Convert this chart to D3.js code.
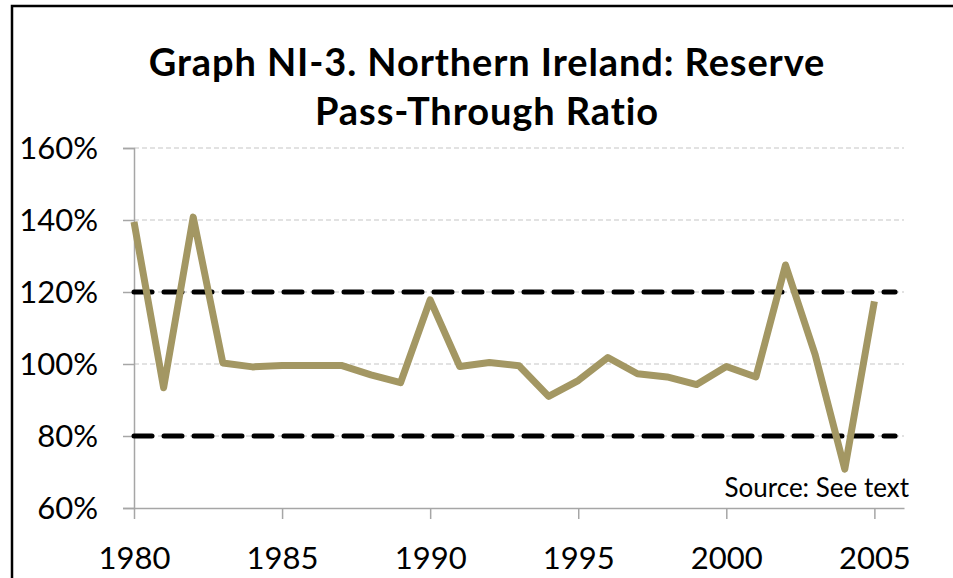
<!DOCTYPE html>
<html>
<head>
<meta charset="utf-8">
<script src="https://cdn.jsdelivr.net/npm/d3@7"></script>
<style>
  body { margin: 0; background: #fff; }
  svg text { font-family: Lato, "Open Sans", sans-serif; fill: #000; }
</style>
</head>
<body>
<script>
// chart values
var years  = [1980, 1981, 1982, 1983, 1984, 1985, 1986, 1987, 1988, 1989,
              1990, 1991, 1992, 1993, 1994, 1995, 1996, 1997, 1998, 1999,
              2000, 2001, 2002, 2003, 2004, 2005];
var ratio  = [139.5, 93.4, 140.8, 100.3, 99.2, 99.6, 99.6, 99.6, 97.0, 94.8,
              117.8, 99.3, 100.4, 99.5, 91.0, 95.4, 101.8, 97.3, 96.4, 94.3,
              99.3, 96.4, 127.5, 102.6, 70.8, 117.4];
var bands  = [120, 80];
var yTicks = [60, 80, 100, 120, 140, 160];
var xTicks = [1980, 1985, 1990, 1995, 2000, 2005];
var titleLines = ["Graph NI-3. Northern Ireland: Reserve", "Pass-Through Ratio"];
var sourceNote = "Source: See text";

var width = 953, height = 578;
var margin = {top: 148, right: 49, bottom: 70, left: 134};

var svg = d3.select("body").append("svg")
    .attr("width", width)
    .attr("height", height);

// frame (top and left edges only)
svg.append("path")
    .attr("d", "M12,578 V6 H953")
    .attr("fill", "none")
    .attr("stroke", "#000")
    .attr("stroke-width", 2.5);

// title
svg.append("g").selectAll("text")
    .data(titleLines)
  .enter().append("text")
    .attr("x", 487)
    .attr("y", function(d, i) { return 76 + i * 49; })
    .attr("text-anchor", "middle")
    .style("font-size", "38px")
    .style("letter-spacing", "0.9px")
    .style("font-weight", "bold")
    .text(function(d) { return d; });

var cWidth  = width - margin.left - margin.right;
var cHeight = height - margin.top - margin.bottom;

var g = svg.append("g")
    .attr("transform", "translate(" + margin.left + "," + margin.top + ")");

var x = d3.scaleLinear().domain([1980, 2006]).range([0, cWidth]);
var y = d3.scaleLinear().domain([60, 160]).range([cHeight, 0]);

// light dashed gridlines
g.append("g").selectAll("line")
    .data(yTicks.slice(1))
  .enter().append("line")
    .attr("x1", 0)
    .attr("x2", cWidth)
    .attr("y1", function(d) { return y(d); })
    .attr("y2", function(d) { return y(d); })
    .attr("stroke", "#d9d9d9")
    .attr("stroke-width", 1.3)
    .attr("stroke-dasharray", "5 3");

// Y axis
var yAxis = g.append("g")
    .call(d3.axisLeft(y).tickValues(yTicks).tickSize(11).tickPadding(25)
        .tickFormat(function(d) { return d + "%"; }));
yAxis.select(".domain").attr("stroke", "#a6a6a6").attr("stroke-width", 1.5);
yAxis.selectAll(".tick line").attr("stroke", "#a6a6a6").attr("stroke-width", 1.5);
yAxis.selectAll("text").style("font-size", "31px").attr("dy", "0.35em");

// X axis
var xAxis = g.append("g")
    .attr("transform", "translate(0," + cHeight + ")")
    .call(d3.axisBottom(x).tickValues(xTicks).tickSize(11).tickSizeOuter(0).tickPadding(28)
        .tickFormat(d3.format("d")));
xAxis.select(".domain").attr("stroke", "#a6a6a6").attr("stroke-width", 1.5);
xAxis.selectAll(".tick line").attr("stroke", "#a6a6a6").attr("stroke-width", 1.5);
xAxis.selectAll("text").style("font-size", "31px");

// 80% / 120% reference lines
g.append("g").selectAll("line")
    .data(bands)
  .enter().append("line")
    .attr("x1", 0)
    .attr("x2", x(2005.7))
    .attr("y1", function(d) { return y(d); })
    .attr("y2", function(d) { return y(d); })
    .attr("stroke", "#000")
    .attr("stroke-width", 5)
    .attr("stroke-linecap", "round")
    .attr("stroke-dasharray", "18 12");

// ratio line
var valueline = d3.line()
    .x(function(d, i) { return x(years[i]); })
    .y(function(d) { return y(d); });

g.append("path")
    .datum(ratio)
    .attr("fill", "none")
    .attr("stroke", "#a39763")
    .attr("stroke-width", 7)
    .attr("stroke-linejoin", "round")
    .attr("d", valueline);

// source note
svg.append("text")
    .attr("x", 909)
    .attr("y", 497)
    .attr("text-anchor", "end")
    .style("font-size", "26px")
    .text(sourceNote);
</script>
</body>
</html>
